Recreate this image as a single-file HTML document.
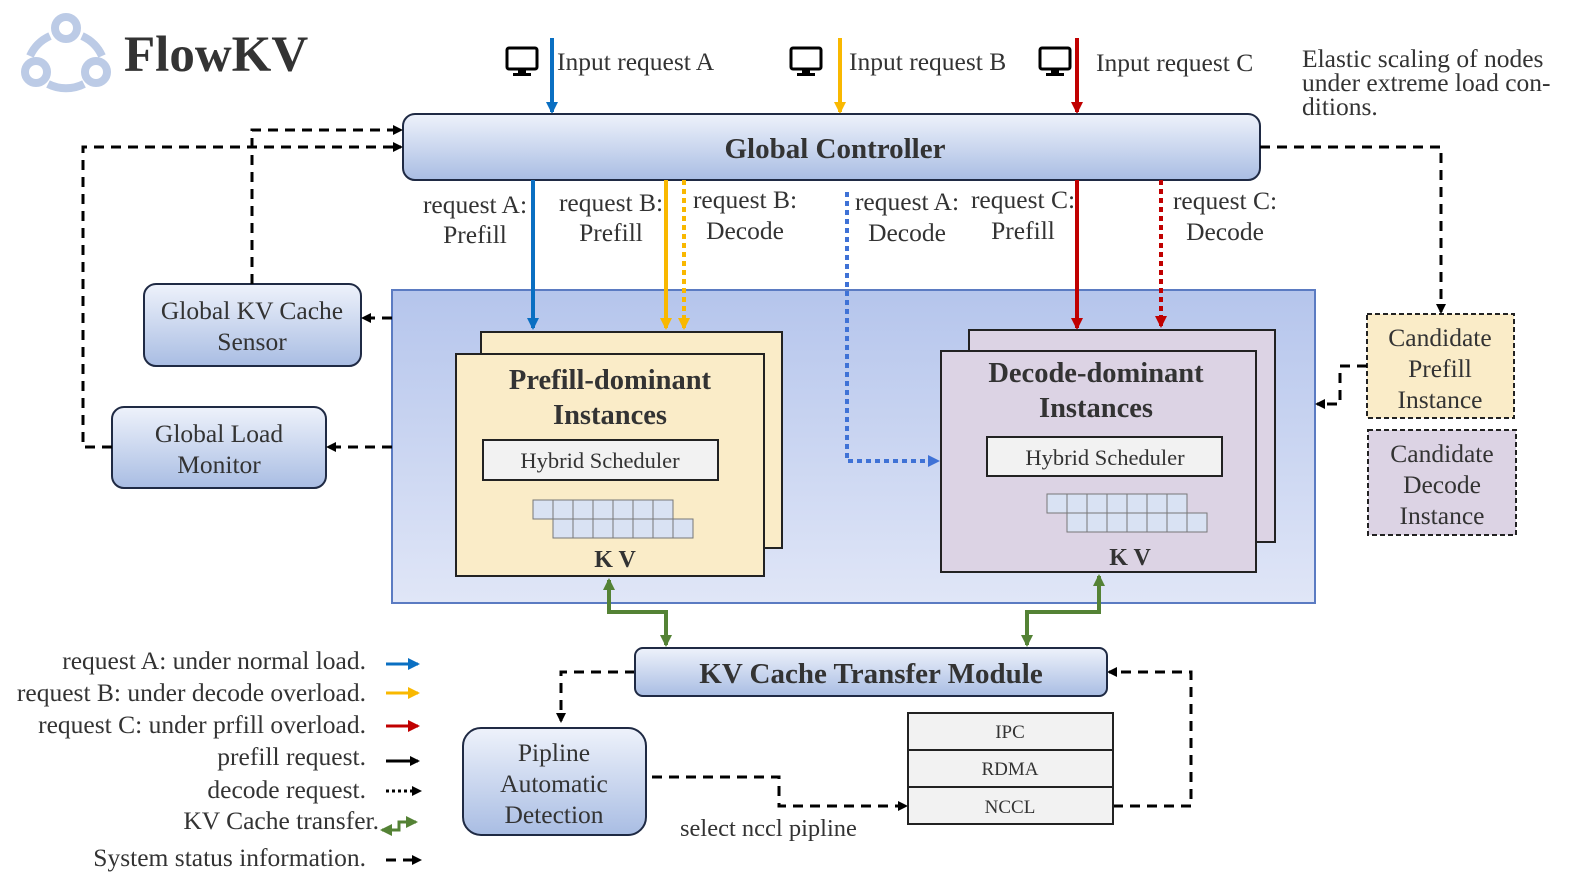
<!DOCTYPE html>
<html><head><meta charset="utf-8"><style>
html,body{margin:0;padding:0;background:#fff;}
svg{display:block;}
text{font-family:"Liberation Serif",serif;fill:#333;}
</style></head><body>
<svg width="1578" height="894" viewBox="0 0 1578 894" xmlns="http://www.w3.org/2000/svg">
<defs>
<linearGradient id="gb" x1="0" y1="0" x2="0" y2="1"><stop offset="0" stop-color="#eef2fb"/><stop offset="1" stop-color="#a9bde3"/></linearGradient>
<linearGradient id="gp" x1="0" y1="0" x2="0" y2="1"><stop offset="0" stop-color="#b5c5ec"/><stop offset="1" stop-color="#e0e6f7"/></linearGradient>
<marker id="aBk" markerWidth="10" markerHeight="10" refX="8" refY="5" orient="auto" markerUnits="userSpaceOnUse"><path d="M0,0 L10,5 L0,10 z" fill="#000"/></marker>
<marker id="aBl" markerWidth="12" markerHeight="12" refX="10" refY="6" orient="auto" markerUnits="userSpaceOnUse"><path d="M0,0 L12,6 L0,12 z" fill="#0a6fc2"/></marker>
<marker id="aBd" markerWidth="12" markerHeight="12" refX="10" refY="6" orient="auto" markerUnits="userSpaceOnUse"><path d="M0,0 L12,6 L0,12 z" fill="#3f72d6"/></marker>
<marker id="aY" markerWidth="12" markerHeight="12" refX="10" refY="6" orient="auto" markerUnits="userSpaceOnUse"><path d="M0,0 L12,6 L0,12 z" fill="#f9b800"/></marker>
<marker id="aR" markerWidth="12" markerHeight="12" refX="10" refY="6" orient="auto" markerUnits="userSpaceOnUse"><path d="M0,0 L12,6 L0,12 z" fill="#c00000"/></marker>
<marker id="aG" markerWidth="12" markerHeight="12" refX="10" refY="6" orient="auto-start-reverse" markerUnits="userSpaceOnUse"><path d="M0,0 L12,6 L0,12 z" fill="#548235"/></marker>
</defs>

<!-- logo -->
<g fill="none" stroke="#bccbe6" stroke-width="8">
<circle cx="66" cy="28" r="11"/><circle cx="36" cy="72" r="11"/><circle cx="96" cy="72" r="11"/>
<path d="M50,36 A40,40 0 0 0 30,56"/><path d="M82,36 A40,40 0 0 1 102,56"/><path d="M48,84 A40,40 0 0 0 84,84"/>
</g>
<text x="124" y="71" font-size="51" font-weight="bold" fill="#333">FlowKV</text>

<!-- monitors -->
<g fill="none" stroke="#000" stroke-width="3">
<rect x="507" y="48" width="30" height="21" rx="2"/><rect x="791" y="48" width="30" height="21" rx="2"/><rect x="1040" y="48" width="30" height="21" rx="2"/>
</g>
<g fill="#000"><rect x="518" y="69" width="8" height="5"/><rect x="513" y="73" width="18" height="3"/>
<rect x="802" y="69" width="8" height="5"/><rect x="797" y="73" width="18" height="3"/>
<rect x="1051" y="69" width="8" height="5"/><rect x="1046" y="73" width="18" height="3"/></g>
<g font-size="25.5"><text x="557" y="70">Input request A</text><text x="849" y="70">Input request B</text><text x="1096" y="71">Input request C</text></g>
<g font-size="25.5"><text x="1302" y="67">Elastic scaling of nodes</text><text x="1302" y="91">under extreme load con-</text><text x="1302" y="115">ditions.</text></g>

<!-- input arrows -->
<line x1="552" y1="38" x2="552" y2="112" stroke="#0a6fc2" stroke-width="4" marker-end="url(#aBl)"/>
<line x1="840" y1="38" x2="840" y2="112" stroke="#f9b800" stroke-width="4" marker-end="url(#aY)"/>
<line x1="1077" y1="38" x2="1077" y2="112" stroke="#c00000" stroke-width="4" marker-end="url(#aR)"/>

<!-- big panel -->
<rect x="392" y="290" width="923" height="313" fill="url(#gp)" stroke="#5b7bc2" stroke-width="2"/>

<!-- global controller -->
<rect x="403" y="114" width="857" height="66" rx="12" fill="url(#gb)" stroke="#1f2a44" stroke-width="2"/>
<text x="835" y="158" font-size="29" font-weight="bold" text-anchor="middle">Global Controller</text>

<!-- labels below controller -->
<g font-size="25.5" text-anchor="middle">
<text x="475" y="213">request A:</text><text x="475" y="243">Prefill</text>
<text x="611" y="211">request B:</text><text x="611" y="241">Prefill</text>
<text x="745" y="208">request B:</text><text x="745" y="239">Decode</text>
<text x="907" y="210">request A:</text><text x="907" y="241">Decode</text>
<text x="1023" y="208">request C:</text><text x="1023" y="239">Prefill</text>
<text x="1225" y="209">request C:</text><text x="1225" y="240">Decode</text>
</g>

<!-- request arrows -->
<line x1="533" y1="180" x2="533" y2="328" stroke="#0a6fc2" stroke-width="4" marker-end="url(#aBl)"/>
<line x1="666" y1="180" x2="666" y2="328" stroke="#f9b800" stroke-width="4" marker-end="url(#aY)"/>
<line x1="684" y1="180" x2="684" y2="328" stroke="#f9b800" stroke-width="4" stroke-dasharray="5,4" marker-end="url(#aY)"/>
<polyline points="847,192 847,461 938,461" fill="none" stroke="#3f72d6" stroke-width="4" stroke-dasharray="5,4" marker-end="url(#aBd)"/>
<line x1="1077" y1="180" x2="1077" y2="328" stroke="#c00000" stroke-width="4" marker-end="url(#aR)"/>
<line x1="1161" y1="180" x2="1161" y2="326" stroke="#c00000" stroke-width="4" stroke-dasharray="5,4" marker-end="url(#aR)"/>

<!-- prefill instances -->
<rect x="481" y="332" width="301" height="216" fill="#faecc8" stroke="#222" stroke-width="2"/>
<rect x="456" y="354" width="308" height="222" fill="#faecc8" stroke="#222" stroke-width="2"/>
<text x="610" y="389" font-size="28.5" font-weight="bold" text-anchor="middle">Prefill-dominant</text>
<text x="610" y="424" font-size="28.5" font-weight="bold" text-anchor="middle">Instances</text>
<rect x="483" y="440" width="235" height="40" fill="#f2f2f2" stroke="#222" stroke-width="2"/>
<text x="600" y="468" font-size="22.5" text-anchor="middle" fill="#111">Hybrid Scheduler</text>
<g fill="#d9e2f3" stroke="#777" stroke-width="1">
<rect x="533" y="500" width="20" height="19"/><rect x="553" y="500" width="20" height="19"/><rect x="573" y="500" width="20" height="19"/><rect x="593" y="500" width="20" height="19"/><rect x="613" y="500" width="20" height="19"/><rect x="633" y="500" width="20" height="19"/><rect x="653" y="500" width="20" height="19"/>
<rect x="553" y="519" width="20" height="19"/><rect x="573" y="519" width="20" height="19"/><rect x="593" y="519" width="20" height="19"/><rect x="613" y="519" width="20" height="19"/><rect x="633" y="519" width="20" height="19"/><rect x="653" y="519" width="20" height="19"/><rect x="673" y="519" width="20" height="19"/>
</g>
<text x="615" y="567" font-size="24" font-weight="bold" text-anchor="middle" fill="#000">K V</text>

<!-- decode instances -->
<rect x="969" y="330" width="306" height="212" fill="#dcd3e4" stroke="#222" stroke-width="2"/>
<rect x="941" y="351" width="315" height="221" fill="#dcd3e4" stroke="#222" stroke-width="2"/>
<text x="1096" y="382" font-size="28.5" font-weight="bold" text-anchor="middle">Decode-dominant</text>
<text x="1096" y="417" font-size="28.5" font-weight="bold" text-anchor="middle">Instances</text>
<rect x="987" y="437" width="235" height="39" fill="#f2f2f2" stroke="#222" stroke-width="2"/>
<text x="1105" y="465" font-size="22.5" text-anchor="middle" fill="#111">Hybrid Scheduler</text>
<g fill="#d9e2f3" stroke="#777" stroke-width="1">
<rect x="1047" y="494" width="20" height="19"/><rect x="1067" y="494" width="20" height="19"/><rect x="1087" y="494" width="20" height="19"/><rect x="1107" y="494" width="20" height="19"/><rect x="1127" y="494" width="20" height="19"/><rect x="1147" y="494" width="20" height="19"/><rect x="1167" y="494" width="20" height="19"/>
<rect x="1067" y="513" width="20" height="19"/><rect x="1087" y="513" width="20" height="19"/><rect x="1107" y="513" width="20" height="19"/><rect x="1127" y="513" width="20" height="19"/><rect x="1147" y="513" width="20" height="19"/><rect x="1167" y="513" width="20" height="19"/><rect x="1187" y="513" width="20" height="19"/>
</g>
<text x="1130" y="565" font-size="24" font-weight="bold" text-anchor="middle" fill="#000">K V</text>

<!-- left boxes -->
<rect x="144" y="284" width="217" height="82" rx="12" fill="url(#gb)" stroke="#1f2a44" stroke-width="2"/>
<text x="252" y="319" font-size="25.5" text-anchor="middle">Global KV Cache</text>
<text x="252" y="350" font-size="25.5" text-anchor="middle">Sensor</text>
<rect x="112" y="407" width="214" height="81" rx="12" fill="url(#gb)" stroke="#1f2a44" stroke-width="2"/>
<text x="219" y="442" font-size="25.5" text-anchor="middle">Global Load</text>
<text x="219" y="473" font-size="25.5" text-anchor="middle">Monitor</text>

<!-- candidates -->
<rect x="1367" y="314" width="147" height="104" fill="#faecc8" stroke="#222" stroke-width="2" stroke-dasharray="5,3"/>
<g font-size="25.5" text-anchor="middle"><text x="1440" y="346">Candidate</text><text x="1440" y="377">Prefill</text><text x="1440" y="408">Instance</text></g>
<rect x="1368" y="430" width="148" height="105" fill="#dcd3e4" stroke="#222" stroke-width="2" stroke-dasharray="5,3"/>
<g font-size="25.5" text-anchor="middle"><text x="1442" y="462">Candidate</text><text x="1442" y="493">Decode</text><text x="1442" y="524">Instance</text></g>

<!-- dashed status lines -->
<g fill="none" stroke="#000" stroke-width="3" stroke-dasharray="10,7">
<polyline points="1260,147 1441,147 1441,312" marker-end="url(#aBk)"/>
<polyline points="1367,366 1340,366 1340,404 1317,404" marker-end="url(#aBk)"/>
<polyline points="252,284 252,130 401,130" marker-end="url(#aBk)"/>
<polyline points="112,447 83,447 83,147 401,147" marker-end="url(#aBk)"/>
<polyline points="392,318 363,318" marker-end="url(#aBk)"/>
<polyline points="392,447 328,447" marker-end="url(#aBk)"/>
<polyline points="635,672 561,672 561,721" marker-end="url(#aBk)"/>
<polyline points="652,777 779,777 779,806 906,806" marker-end="url(#aBk)"/>
<polyline points="1113,806 1191,806 1191,672 1109,672" marker-end="url(#aBk)"/>
</g>

<!-- green KV transfer -->
<polyline points="609,580 609,612 666,612 666,645" fill="none" stroke="#548235" stroke-width="4" marker-start="url(#aG)" marker-end="url(#aG)"/>
<polyline points="1099,576 1099,612 1027,612 1027,645" fill="none" stroke="#548235" stroke-width="4" marker-start="url(#aG)" marker-end="url(#aG)"/>

<!-- KV cache transfer module -->
<rect x="635" y="648" width="472" height="48" rx="8" fill="url(#gb)" stroke="#1f2a44" stroke-width="2"/>
<text x="871" y="683" font-size="29" font-weight="bold" text-anchor="middle">KV Cache Transfer Module</text>

<!-- pipline -->
<rect x="463" y="728" width="183" height="107" rx="18" fill="url(#gb)" stroke="#1f2a44" stroke-width="2"/>
<g font-size="25.5" text-anchor="middle" fill="#111"><text x="554" y="761">Pipline</text><text x="554" y="792">Automatic</text><text x="554" y="823">Detection</text></g>
<text x="680" y="836" font-size="24.5">select nccl pipline</text>

<!-- IPC stack -->
<g fill="#f2f2f2" stroke="#222" stroke-width="2">
<rect x="908" y="713" width="205" height="37"/><rect x="908" y="750" width="205" height="37"/><rect x="908" y="787" width="205" height="37"/>
</g>
<g font-size="19" text-anchor="middle" fill="#111"><text x="1010" y="738">IPC</text><text x="1010" y="775">RDMA</text><text x="1010" y="813">NCCL</text></g>

<!-- legend -->
<g font-size="25.5" text-anchor="end">
<text x="366" y="669">request A: under normal load.</text>
<text x="366" y="701">request B: under decode overload.</text>
<text x="366" y="733">request C: under prfill overload.</text>
<text x="366" y="765">prefill request.</text>
<text x="366" y="798">decode request.</text>
<text x="379" y="829">KV Cache transfer.</text>
<text x="366" y="866">System status information.</text>
</g>
<line x1="386" y1="664" x2="418" y2="664" stroke="#0a6fc2" stroke-width="3" marker-end="url(#aBl)"/>
<line x1="386" y1="693" x2="418" y2="693" stroke="#f9b800" stroke-width="3" marker-end="url(#aY)"/>
<line x1="386" y1="726" x2="418" y2="726" stroke="#c00000" stroke-width="3" marker-end="url(#aR)"/>
<line x1="386" y1="761" x2="418" y2="761" stroke="#000" stroke-width="3" marker-end="url(#aBk)"/>
<line x1="386" y1="791" x2="420" y2="791" stroke="#000" stroke-width="3" stroke-dasharray="3,3" marker-end="url(#aBk)"/>
<polyline points="382,830 399,830 399,822 416,822" fill="none" stroke="#548235" stroke-width="3" marker-start="url(#aG)" marker-end="url(#aG)"/>
<line x1="386" y1="860" x2="420" y2="860" stroke="#000" stroke-width="3" stroke-dasharray="10,7" marker-end="url(#aBk)"/>
</svg>
</body></html>
